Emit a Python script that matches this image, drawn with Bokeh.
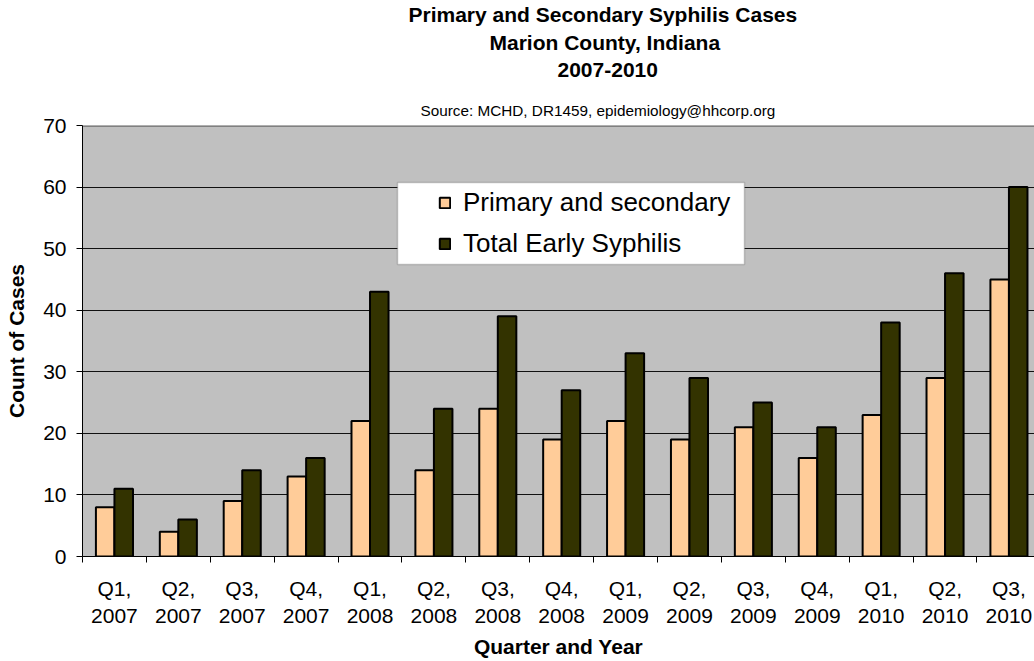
from bokeh.plotting import figure
from bokeh.models import (Range1d, LinearAxis, FixedTicker, Legend, LegendItem,
                          BoxAnnotation, ColumnDataSource, Title, Grid, Span)
from bokeh.transform import dodge
from bokeh.embed import file_html
from bokeh.resources import INLINE

quarters = ["Q1,", "Q2,", "Q3,", "Q4,", "Q1,", "Q2,", "Q3,", "Q4,",
            "Q1,", "Q2,", "Q3,", "Q4,", "Q1,", "Q2,", "Q3,"]
years = ["2007", "2007", "2007", "2007", "2008", "2008", "2008", "2008",
         "2009", "2009", "2009", "2009", "2010", "2010", "2010"]
primary = [8, 4, 9, 13, 22, 14, 24, 19, 22, 19, 21, 16, 23, 29, 45]
total = [11, 6, 14, 16, 43, 24, 39, 27, 33, 29, 25, 21, 38, 46, 60]
y_ticks = [0, 10, 20, 30, 40, 50, 60, 70]

idx = list(range(len(quarters)))
src = ColumnDataSource(dict(idx=idx, primary=primary, total=total))

FONT = "Liberation Sans"

p = figure(width=1034, height=661, output_backend="svg", toolbar_location=None,
           x_range=Range1d(-0.5, 14.4), y_range=Range1d(0, 70),
           x_axis_type=None, y_axis_type=None,
           min_border_left=82, min_border_right=0, min_border_top=125, min_border_bottom=105)
p.background_fill_color = "#C0C0C0"
p.border_fill_color = "white"
p.outline_line_color = None

# y axis
yax = LinearAxis(ticker=FixedTicker(ticks=y_ticks))
yax.axis_label = "Count of Cases"
yax.axis_label_text_font = FONT
yax.axis_label_text_font_style = "bold"
yax.axis_label_text_font_size = "21px"
yax.axis_label_text_color = "black"
yax.axis_label_standoff = 12
yax.major_label_text_font = FONT
yax.major_label_text_font_size = "21px"
yax.major_label_text_color = "black"
yax.major_label_standoff = 10
yax.major_tick_out = 6
yax.major_tick_in = 0
yax.minor_tick_out = 0
yax.minor_tick_in = 0
yax.axis_line_color = "black"
yax.major_tick_line_color = "black"
p.add_layout(yax, "left")

# x axis: labels at category centres, tick marks (minor) at category boundaries
bounds = [i - 0.5 for i in range(len(quarters) + 1)]
xl = LinearAxis(ticker=FixedTicker(ticks=idx, minor_ticks=bounds))
xl.major_label_overrides = {i: quarters[i] + "\n" + years[i] for i in idx}
xl.major_label_text_font = FONT
xl.major_label_text_font_size = "21px"
xl.major_label_text_color = "black"
xl.major_label_standoff = 14
xl.major_tick_out = 0
xl.major_tick_in = 0
xl.minor_tick_out = 6
xl.minor_tick_in = 0
xl.minor_tick_line_color = "black"
xl.axis_line_color = "black"
xl.axis_label = "Quarter and Year"
xl.axis_label_text_font = FONT
xl.axis_label_text_font_style = "bold"
xl.axis_label_text_font_size = "21px"
xl.axis_label_text_color = "black"
xl.axis_label_standoff = 5
p.add_layout(xl, "below")

p.grid.grid_line_color = None
p.add_layout(Grid(dimension=1, ticker=FixedTicker(ticks=y_ticks[:-1]), grid_line_color="#111111",
                  grid_line_width=1))
p.add_layout(Span(location=y_ticks[-1], dimension="width", line_color="#808080", line_width=3,
                  level="underlay"))

r1 = p.vbar(x=dodge("idx", -0.145, range=p.x_range), top="primary", width=0.29, source=src,
            fill_color="#FFCC99", line_color="black", line_width=2)
r2 = p.vbar(x=dodge("idx", 0.145, range=p.x_range), top="total", width=0.29, source=src,
            fill_color="#333300", line_color="black", line_width=2)

# legend box
box = BoxAnnotation(left=315, right=662, top=374, bottom=292,
                    left_units="screen", right_units="screen", top_units="screen", bottom_units="screen",
                    fill_color="white", fill_alpha=1, line_color="#555555", line_width=1.5)
p.add_layout(box)

legend = Legend(items=[LegendItem(label="Primary and secondary", renderers=[r1]),
                       LegendItem(label="Total Early Syphilis", renderers=[r2])],
                location=(356, 297), background_fill_alpha=0, border_line_color=None,
                label_text_font=FONT, label_text_font_size="26px", label_text_color="black",
                glyph_width=13, glyph_height=13, label_standoff=12,
                label_height=30, spacing=10, padding=5, margin=0)
p.add_layout(legend)

# titles (nearest the plot first); " " entries are spacers
titles = [(" ", 0, "1px", "normal", 3),
          ("Source: MCHD, DR1459, epidemiology@hhcorp.org", 338, "15.3px", "normal", 0),
          (" ", 0, "1px", "normal", 15),
          ("2007-2010", 475, "21px", "bold", 10),
          ("Marion County, Indiana", 407, "21px", "bold", 4),
          ("Primary and Secondary Syphilis Cases", 326, "21px", "bold", 2)]
for t, off, fs, st, so in titles:
    p.add_layout(Title(text=t, align="left", offset=off, text_font=FONT, text_font_size=fs,
                       text_font_style=st, text_color="black", standoff=so,
                       vertical_align="middle"), "above")

open("out.html", "w").write(file_html(p, INLINE))
